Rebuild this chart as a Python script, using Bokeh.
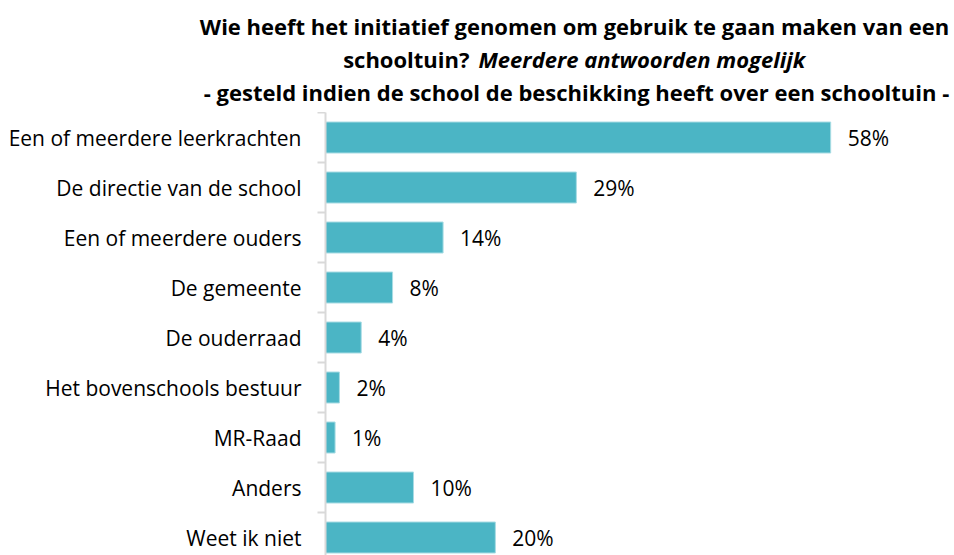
from bokeh.plotting import figure
from bokeh.models import Range1d, FixedTicker, ColumnDataSource
from bokeh.core.properties import value
from bokeh.embed import file_html
from bokeh.resources import INLINE

# ---- data ----
categories = [
    "Een of meerdere leerkrachten",
    "De directie van de school",
    "Een of meerdere ouders",
    "De gemeente",
    "De ouderraad",
    "Het bovenschools bestuur",
    "MR-Raad",
    "Anders",
    "Weet ik niet",
]
values = [58.0, 28.8, 13.5, 7.7, 4.1, 1.6, 1.1, 10.1, 19.5]
value_labels = ["58%", "29%", "14%", "8%", "4%", "2%", "1%", "10%", "20%"]

title_line1 = "Wie heeft het initiatief genomen om gebruik te gaan maken van een"
title_line2a = "schooltuin?"
title_line2b = "Meerdere antwoorden mogelijk"
title_line3 = "- gesteld indien de school de beschikking heeft over een schooltuin -"

FONT = "Open Sans"
BAR = "#4BB5C5"
TXT = "#000000"
W = 954
TITLE_H = 112
CHART_H = 555 - TITLE_H

# ---- title figure (pixel coordinates, y downwards) ----
t = figure(width=W, height=TITLE_H, x_range=Range1d(0, W), y_range=Range1d(TITLE_H, 0),
           toolbar_location=None, output_backend="svg", min_border=0)
t.axis.visible = False
t.grid.visible = False
t.outline_line_color = None
tk = dict(text_font=value(FONT), text_font_size="22px", text_color=TXT,
          text_baseline="alphabetic", text_font_style="bold")
t.text(x=[574], y=[25], text=[title_line1], text_align="center", **tk)
t.text(x=[469], y=[58], text=[title_line2a], text_align="right", **tk)
tk2 = dict(tk)
tk2["text_font_style"] = "bold italic"
t.text(x=[478], y=[58], text=[title_line2b], text_align="left", **tk2)
t.text(x=[576], y=[91], text=[title_line3], text_align="center", **tk)

# ---- chart figure ----
BORDER_L = 325
X_MAX = (W - BORDER_L) / 8.71
Y_TOP = -0.5
Y_BOT = Y_TOP + CHART_H / 50.0

ys = list(range(len(categories)))
src = ColumnDataSource(dict(y=ys, v=values, lab=value_labels))

p = figure(width=W, height=CHART_H, x_range=Range1d(0, X_MAX), y_range=Range1d(Y_BOT, Y_TOP),
           toolbar_location=None, output_backend="svg",
           min_border_left=BORDER_L, min_border_right=0, min_border_top=0, min_border_bottom=0,
           x_axis_location=None)
p.grid.visible = False
p.outline_line_color = None

p.hbar(y="y", left=0, right="v", height=0.62, source=src,
       fill_color=BAR, line_color="#a8dce4", line_width=1)
p.text(x="v", y="y", text="lab", source=src, x_offset=17,
       text_align="left", text_baseline="middle",
       text_font=value(FONT), text_font_size="21px", text_color=TXT)

ax = p.yaxis[0]
ax.ticker = FixedTicker(ticks=ys, minor_ticks=[i - 0.5 for i in range(len(categories) + 1)])
ax.major_label_overrides = {i: c for i, c in enumerate(categories)}
ax.major_tick_out = 0
ax.major_tick_in = 0
ax.minor_tick_out = 8
ax.minor_tick_in = 0
ax.minor_tick_line_color = "#d9d9d9"
ax.minor_tick_line_width = 2
ax.axis_line_color = "#d9d9d9"
ax.axis_line_width = 2
ax.major_label_standoff = 16
ax.major_label_text_font = FONT
ax.major_label_text_font_size = "21px"
ax.major_label_text_color = TXT

open("out.html", "w").write(file_html([t, p], INLINE))
